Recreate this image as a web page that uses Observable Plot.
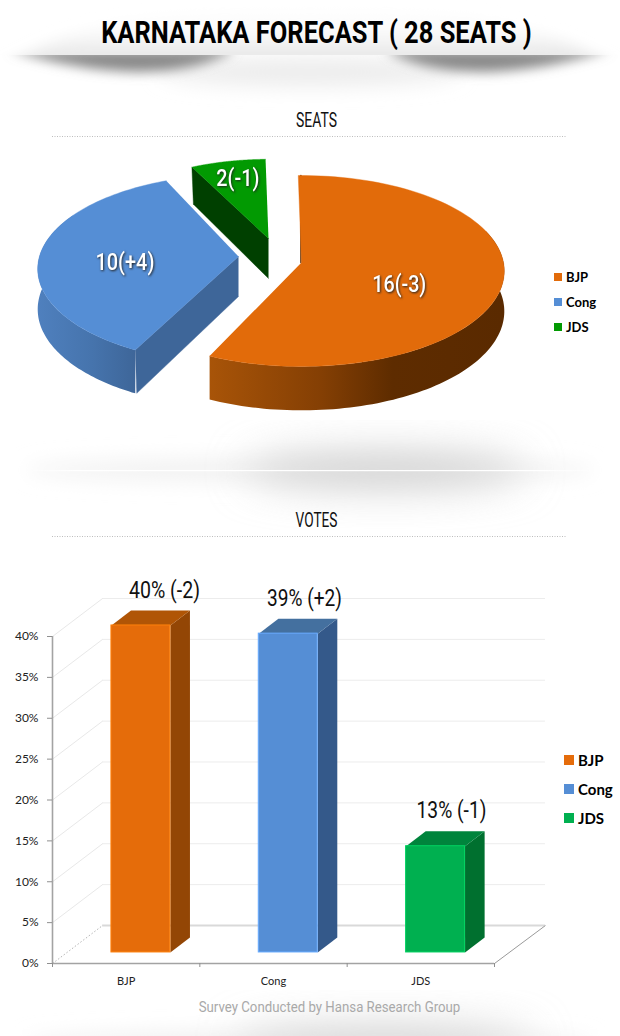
<!DOCTYPE html>
<html>
<head>
<meta charset="utf-8">
<script src="https://cdn.jsdelivr.net/npm/d3@7"></script>
<script src="https://cdn.jsdelivr.net/npm/@observablehq/plot@0.6"></script>
<style>
html,body{margin:0;padding:0;background:#fff;}
#page{position:relative;width:620px;height:1036px;overflow:hidden;}
#page>svg,#page>div{position:absolute;left:0;top:0;}
.lg{position:absolute;color:#000;white-space:nowrap;}
.lg i{position:absolute;display:block;}
</style>
</head>
<body>
<div id="page">
<svg id="bg" width="620" height="1036">
  <defs>
    <filter id="b2" x="-20%" y="-150%" width="140%" height="400%"><feGaussianBlur stdDeviation="6"/></filter>
    <filter id="b5" x="-10%" y="-60%" width="120%" height="220%"><feGaussianBlur stdDeviation="7"/></filter>
    <filter id="b8" x="-30%" y="-200%" width="160%" height="500%"><feGaussianBlur stdDeviation="10"/></filter>
    <filter id="b14" x="-40%" y="-200%" width="180%" height="500%"><feGaussianBlur stdDeviation="20"/></filter>
    <clipPath id="above"><rect x="0" y="0" width="620" height="55"/></clipPath>
    <clipPath id="below"><rect x="0" y="55" width="620" height="60"/></clipPath>
    <clipPath id="low"><rect x="15" y="990" width="590" height="46"/></clipPath>
    <clipPath id="midband"><rect x="15" y="420" width="590" height="110"/></clipPath>
    <linearGradient id="head" x1="0" y1="0" x2="0" y2="1">
      <stop offset="0" stop-color="#fff"/><stop offset=".45" stop-color="#fafafa"/><stop offset="1" stop-color="#e0e0e0"/>
    </linearGradient>
    <linearGradient id="wh" x1="0" y1="0" x2="1" y2="0">
      <stop offset="0" stop-color="#fff" stop-opacity="0"/><stop offset=".1" stop-color="#fff"/><stop offset=".9" stop-color="#fff"/><stop offset="1" stop-color="#fff" stop-opacity="0"/>
    </linearGradient>
    <linearGradient id="wallOrange" x1="0" y1="0" x2="1" y2="0">
      <stop offset="0" stop-color="#a85408"/><stop offset=".38" stop-color="#843f04"/><stop offset=".62" stop-color="#5e2c00"/><stop offset="1" stop-color="#5a2a00"/>
    </linearGradient>
    <linearGradient id="wallBlue" x1="0" y1="0" x2="1" y2="0">
      <stop offset="0" stop-color="#4f80be"/><stop offset=".55" stop-color="#4674ad"/><stop offset="1" stop-color="#3e6699"/>
    </linearGradient>
  </defs>
  <g clip-path="url(#above)">
    <path d="M2,66 C50,48 70,12 310,6 C550,12 570,48 618,66 Z" fill="url(#head)" filter="url(#b5)"/>
  </g>
  <g clip-path="url(#below)">
    <ellipse cx="310" cy="72" rx="150" ry="14" fill="#ececec" filter="url(#b8)"/>
    <path d="M10,50 L235,50 C175,84 90,74 10,50 Z" fill="#8a8a8a" filter="url(#b2)"/>
    <path d="M610,50 L385,50 C445,84 530,74 610,50 Z" fill="#8a8a8a" filter="url(#b2)"/>
  </g>
  <g clip-path="url(#midband)">
    <ellipse cx="310" cy="470" rx="285" ry="12" fill="#f1f1f1" filter="url(#b8)"/>
    <ellipse cx="385" cy="470" rx="140" ry="18" fill="#d0d0d0" filter="url(#b14)"/>
  </g>
  <rect x="15" y="470" width="590" height="1.2" fill="url(#wh)"/>
  <g clip-path="url(#low)">
    <ellipse cx="310" cy="1042" rx="285" ry="10" fill="#eeeeee" filter="url(#b8)"/>
    <ellipse cx="385" cy="1040" rx="150" ry="14" fill="#d0d0d0" filter="url(#b14)"/>
  </g>
</svg>
</div>
<script>
// ---- data ----
const parties = ["BJP", "Cong", "JDS"];
const seats = [16, 10, 2];
const seatLabels = ["16(-3)", "10(+4)", "2(-1)"];
const votes = [40, 39, 13];
const voteLabels = ["40% (-2)", "39% (+2)", "13% (-1)"];
const pieColors = ["#e26b0a", "#558ed5", "#029a02"];
const barFront = ["#e56c0a", "#558ed5", "#00b050"];
const barSide = ["#934605", "#34598a", "#00702f"];
const barTop = ["#b05506", "#44709f", "#00843c"];
const voteTicks = [0, 5, 10, 15, 20, 25, 30, 35, 40];

// ---- pie layout (exploded, perspective) ----
const pieAngles = d3.pie().sort(null).value(d => d)(seats);
const hub = [[301, 262], [238, 256], [268, 238]];
const arcShift = [0, 4, 0];
const spin = [-1, 2.7, -1];
const radius = [202, 200, 184];
const labelAt = [[0.49, 12], [0.57, 4], [0.74, -2]];
const p = 0.089, ky = 94.7, depth = 40;

function project(i, a, r = 1) {
  const u = Math.sin(a) * r, v = -Math.cos(a) * r;
  const s = 1 / (1 - p * v);
  const k = radius[i] / 202;
  return {x: hub[i][0] + radius[i] * u * s, y: hub[i][1] + arcShift[i] + ky * k * v * s, s};
}
function arc(i, a0, a1) {
  const n = 90, o = [];
  for (let j = 0; j <= n; j++) o.push(project(i, a0 + (a1 - a0) * j / n));
  return o;
}
const toRad = Math.PI / 180;
function range(i) {
  return [pieAngles[i].startAngle + spin[i] * toRad, pieAngles[i].endAngle + spin[i] * toRad];
}
const top_ = i => {
  const [a0, a1] = range(i);
  return [{x: hub[i][0], y: hub[i][1]}, ...arc(i, a0, a1)];
};
const wall = (i, a0, a1) => {
  const t = arc(i, a0, a1);
  return [...t, ...t.slice().reverse().map(d => ({x: d.x, y: d.y + depth * d.s}))];
};
const face = (i, a) => {
  const e = project(i, a);
  return [{x: hub[i][0], y: hub[i][1]}, e,
          {x: e.x + 1.5, y: e.y + depth * e.s}, {x: hub[i][0], y: hub[i][1] + depth}];
};
const poly = (pts, fill) => Plot.line(pts, {x: "x", y: "y", fill, stroke: fill.startsWith("url") ? "none" : fill, strokeWidth: 0.4});

const [o0, o1] = range(0), [b0, b1] = range(1), [g0] = range(2);
const labelRows = seats.map((_, i) => {
  const [a0, a1] = range(i), q = project(i, (a0 + a1) / 2, labelAt[i][0]);
  return {x: q.x, y: q.y + labelAt[i][1], t: seatLabels[i]};
});
const mainTitle = [{x: 316, y: 32, t: "KARNATAKA FORECAST ( 28 SEATS )"}];
const headings = [
  {x: 316, y: 120, t: "SEATS", s: 19.5, c: "#111", n: 41},
  {x: 316, y: 520, t: "VOTES", s: 19.5, c: "#111", n: 42},
  {x: 329, y: 1007, t: "Survey Conducted by Hansa Research Group", s: 14, c: "#a9a9a9", n: 262}
];

const pagePlot = Plot.plot({
  width: 620, height: 1036, margin: 0,
  x: {domain: [0, 620], range: [0, 620], axis: null},
  y: {domain: [0, 1036], range: [0, 1036], axis: null},
  style: {background: "transparent"},
  color: {type: "identity"},
  marks: [
    Plot.ruleY([136], {x1: 52, x2: 567, stroke: "#bdbdbd", strokeDasharray: "1 1.5"}),
    Plot.ruleY([536], {x1: 52, x2: 567, stroke: "#bdbdbd", strokeDasharray: "1 1.5"}),
    // green slice
    poly(face(2, g0), "#004000"),
    poly(top_(2), pieColors[2]),
    // blue slice
    poly(wall(1, b0, 300 * toRad), "url(#wallBlue)"),
    poly(face(1, b0), "#3e6699"),
    poly(top_(1), pieColors[1]),
    // orange slice
    Plot.line([project(0, 0), {x: hub[0][0], y: hub[0][1]}], {x: d => d.x - 0.6, y: "y", stroke: "#5a2a00", strokeWidth: 1.4}),
    poly(wall(0, 70 * toRad, o1), "url(#wallOrange)"),
    poly(top_(0), pieColors[0]),
    Plot.text(labelRows, {x: "x", y: "y", text: "t", fill: "#fff", fontSize: 23.5, fontWeight: 500, fontFamily: "Roboto"}),
    Plot.text(mainTitle, {x: "x", y: "y", text: "t", fill: "#000", fontSize: 32, fontWeight: 700, fontFamily: "Roboto"}),
    Plot.text(headings, {x: "x", y: "y", text: "t", fill: "c", fontSize: "s", fontFamily: "Roboto"})
  ]
});

// ---- 3-D bars ----
const backX = 0.34, backY = 4.65;          // wall offset
const floorY = 1.35, cx = 0.6, hw = 0.2;   // bar placement
const dX = 0.133, dY = 1.83;               // bar depth
const labelDx = [0.16, 0.11, 0.108];
const bars = parties.map((name, i) => ({name, i, v: votes[i], l: voteLabels[i]}));
const barPoly = (pts, fill) => Plot.line(pts, {x: "x", y: "y", fill, stroke: "none"});

const barMarks = bars.flatMap(b => {
  const L = b.i + cx - hw, R = b.i + cx + hw, B = floorY, T = floorY + b.v;
  return [
    barPoly([{x: R, y: B}, {x: R + dX, y: B + dY}, {x: R + dX, y: T + dY}, {x: R, y: T}], barSide[b.i]),
    barPoly([{x: L, y: T}, {x: R, y: T}, {x: R + dX, y: T + dY}, {x: L + dX, y: T + dY}], barTop[b.i]),
    Plot.rect([b], {x1: L, x2: R, y1: B, y2: T, fill: barFront[b.i], stroke: d3.color(barFront[b.i]).brighter(0.5).formatHex(), strokeWidth: 1}),
  ];
});

const barPlot = Plot.plot({
  width: 620, height: 1036,
  marginLeft: 52, marginRight: 126, marginBottom: 73, marginTop: 636,
  x: {domain: [0, 3]},
  y: {domain: [0, 40]},
  style: {background: "transparent", overflow: "visible"},
  marks: [
    Plot.ruleY(voteTicks.filter(d => d > 0), {y: d => d + backY, x1: backX, x2: 3.346, stroke: "#ececec"}),
    Plot.link(voteTicks.filter(d => d > 0), {x1: 0, x2: backX, y1: d => d, y2: d => d + backY, stroke: "#e8e8e8"}),
    Plot.link([0], {x1: 0, x2: backX, y1: 0, y2: backY, stroke: "#b5b5b5", strokeDasharray: "1.5 2"}),
    Plot.ruleY([backY], {x1: backX, x2: 3.346, stroke: "#d9d9d9", strokeWidth: 2}),
    Plot.link([0], {x1: 3, x2: 3.346, y1: 0, y2: backY, stroke: "#9a9a9a"}),
    ...barMarks,
    Plot.ruleX([0], {y1: 0, y2: 40, stroke: "#a3a3a3", strokeWidth: 1.6}),
    Plot.ruleY([0], {x1: 0, x2: 3, stroke: "#a3a3a3", strokeWidth: 1.6}),
    Plot.axisY({ticks: voteTicks, tickFormat: d => d + "%", tickSize: 5, tickPadding: 9, label: null, fontSize: 12, fontFamily: "Lato", stroke: "#8f8f8f", color: "#222"}),
    Plot.axisX({ticks: [0, 1, 2, 3], tickFormat: () => "", tickSize: 4, label: null, stroke: "#8f8f8f"}),
    Plot.text(bars, {x: d => d.i + 0.5, y: 0, dy: 18, text: "name", fill: "#222", fontSize: 11, fontFamily: "Lato"}),
    Plot.text(bars, {x: d => d.i + cx + labelDx[d.i], y: d => d.v + floorY + 4.3, text: "l", fill: "#111", fontSize: 23, fontFamily: "Roboto"})
  ]
});

const page = document.getElementById("page");
page.append(pagePlot, barPlot);

// ---- condensed faces, shadows ----
const fitWidth = Object.fromEntries([
  [mainTitle[0].t, 431],
  ...headings.map(d => [d.t, d.n]),
  ["16(-3)", 54], ["10(+4)", 59], ["2(-1)", 43],
  ["40% (-2)", 71], ["39% (+2)", 75], ["13% (-1)", 70]
]);
page.querySelectorAll("text").forEach(t => {
  const n = fitWidth[t.textContent];
  if (n) {
    const tr = t.getAttribute("transform");
    if (tr) {
      t.setAttribute("transform", `${tr} scale(${n / t.getComputedTextLength()},1)`);
    } else {
      t.setAttribute("textLength", n);
      t.setAttribute("lengthAdjust", "spacingAndGlyphs");
    }
  }
  if (seatLabels.includes(t.textContent)) t.style.filter = "drop-shadow(1px 1px 1px #222)";
});

// ---- legends ----
function legend(rows, left, colors, size, box, weight) {
  rows.forEach((r, i) => {
    const d = document.createElement("div");
    d.className = "lg";
    d.style.cssText = `left:${left}px;top:${r.y - 10}px;height:20px;font:${weight} ${size}px/20px Lato;padding-left:${box + 4}px;`;
    d.textContent = r.t;
    const s = document.createElement("i");
    s.style.cssText = `left:0;top:${10 - box / 2}px;width:${box}px;height:${box}px;background:${colors[i]};`;
    d.prepend(s);
    page.append(d);
  });
}
legend(parties.map((t, i) => ({t, y: 277 + 25 * i})), 554, pieColors, 13, 8, 700);
legend(parties.map((t, i) => ({t, y: 760 + 29 * i})), 564, barFront, 15, 10, 700);
</script>
</body>
</html>
